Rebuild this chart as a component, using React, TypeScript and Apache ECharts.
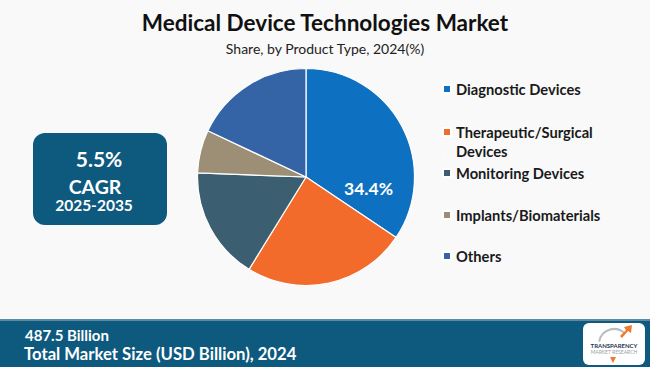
import React, { useEffect, useRef } from "react";
import * as echarts from "echarts";

const categories = [
  "Diagnostic Devices",
  "Therapeutic/Surgical Devices",
  "Monitoring Devices",
  "Implants/Biomaterials",
  "Others",
];
const shares = [34.4, 24.4, 16.8, 6.4, 18.0];
const legendLabels = [
  "Diagnostic Devices",
  "Therapeutic/Surgical\nDevices",
  "Monitoring Devices",
  "Implants/Biomaterials",
  "Others",
];
const colors = ["#0e70c0", "#f26b2a", "#3b5e70", "#9d8f76", "#3564a6"];
const titleText = "Medical Device Technologies Market";
const subtitleText = "Share, by Product Type, 2024(%)";
const cagrValue = "5.5%";
const cagrLabel = "CAGR";
const cagrPeriod = "2025-2035";
const marketSize = "487.5 Billion";
const marketLabel = "Total Market Size (USD Billion), 2024";

const legendTops = [80, 122.5, 164, 206, 247];

export default function App() {
  const ref = useRef<HTMLDivElement>(null);
  useEffect(() => {
    if (!ref.current) return;
    const chart = echarts.init(ref.current, null, { renderer: "svg" });
    const font = "Lato, 'Open Sans', sans-serif";
    const teal = "#0e5a7e";

    const legends = categories.map((name, i) => {
      const wrapped = legendLabels[i].includes("\n");
      return {
        data: [
          wrapped
            ? { name, icon: "path://M0,0h8v8h-8zM0,26.9h0.1v0.1h-0.1z" }
            : { name, icon: "rect" },
        ],
        orient: "vertical",
        left: 442,
        top: legendTops[i],
        padding: 0,
        itemWidth: 8,
        itemHeight: wrapped ? 27 : 8,
        selectedMode: false,
        formatter: () => legendLabels[i],
        textStyle: {
          fontFamily: font,
          fontWeight: "bold",
          fontSize: 14.7,
          color: "#1a1a1a",
          lineHeight: wrapped ? 19 : 18,
        },
      };
    });

    chart.setOption({
      animation: false,
      backgroundColor: "#f9f9f9",
      color: colors,
      title: [
        {
          text: titleText,
          left: "center",
          top: 6,
          textStyle: { fontFamily: font, fontWeight: "bold", fontSize: 22.5, color: "#111" },
        },
        {
          text: subtitleText,
          left: "center",
          top: 36,
          textStyle: { fontFamily: font, fontWeight: "normal", fontSize: 14, color: "#222" },
        },
      ],
      legend: legends,
      series: [
        {
          type: "pie",
          center: [306, 177],
          radius: 108.5,
          startAngle: 90,
          clockwise: true,
          avoidLabelOverlap: false,
          itemStyle: { borderColor: "#ffffff", borderWidth: 1.2 },
          label: { show: false },
          labelLine: { show: false },
          emphasis: { disabled: true },
          data: categories.map((name, i) => ({
            name,
            value: shares[i],
            label:
              i === 0
                ? {
                    show: true,
                    position: "inside",
                    offset: [12, 38],
                    formatter: (p: any) => p.value.toFixed(1) + "%",
                    color: "#ffffff",
                    fontFamily: font,
                    fontWeight: "bold",
                    fontSize: 17.5,
                  }
                : { show: false },
          })),
        },
      ],
      graphic: [
        {
          type: "rect",
          shape: { x: 33, y: 133, width: 134, height: 92, r: 12 },
          style: { fill: teal },
        },
        {
          type: "text",
          x: 99,
          y: 158,
          style: {
            text: cagrValue,
            fill: "#fff",
            font: `bold 21px ${font}`,
            align: "center",
            verticalAlign: "middle",
          },
        },
        {
          type: "text",
          x: 95,
          y: 186,
          style: {
            text: cagrLabel,
            fill: "#fff",
            font: `bold 19.5px ${font}`,
            align: "center",
            verticalAlign: "middle",
          },
        },
        {
          type: "text",
          x: 94,
          y: 205,
          style: {
            text: cagrPeriod,
            fill: "#fff",
            font: `bold 15.5px ${font}`,
            align: "center",
            verticalAlign: "middle",
          },
        },
        {
          type: "rect",
          shape: { x: 0, y: 320, width: 650, height: 47 },
          style: { fill: teal },
        },
        {
          type: "rect",
          shape: { x: 0, y: 319, width: 650, height: 2 },
          style: { fill: "#5f8aa3" },
        },
        {
          type: "text",
          x: 25,
          y: 335,
          style: {
            text: marketSize,
            fill: "#fff",
            font: `bold 15px ${font}`,
            verticalAlign: "middle",
          },
        },
        {
          type: "text",
          x: 24,
          y: 354,
          style: {
            text: marketLabel,
            fill: "#fff",
            font: `bold 16.7px ${font}`,
            verticalAlign: "middle",
          },
        },
        {
          type: "rect",
          shape: { x: 583, y: 323, width: 62, height: 42, r: 6 },
          style: { fill: "#ffffff" },
        },
        {
          type: "arc",
          shape: { cx: 614, cy: 344, r: 15, startAngle: Math.PI * 1.05, endAngle: Math.PI * 1.75 },
          style: { stroke: "#b8bcc0", lineWidth: 2, fill: "none" },
        },
        {
          type: "polygon",
          shape: {
            points: [
              [620, 336],
              [626, 330],
              [624, 327],
              [632, 325],
              [631, 333],
              [628, 331],
              [622, 338],
            ],
          },
          style: { fill: "#ef7a2e" },
        },
        {
          type: "text",
          x: 614,
          y: 345,
          style: {
            text: "TRANSPARENCY",
            fill: "#1f3550",
            font: `bold 6px ${font}`,
            align: "center",
            verticalAlign: "middle",
          },
        },
        {
          type: "text",
          x: 614,
          y: 352,
          style: {
            text: "MARKET RESEARCH",
            fill: "#9aa0a6",
            font: `5px ${font}`,
            align: "center",
            verticalAlign: "middle",
          },
        },
        {
          type: "polygon",
          shape: { points: [[610, 357], [616, 357], [613, 363]] },
          style: { fill: "#ef7a2e" },
        },
      ],
    });
    return () => chart.dispose();
  }, []);
  return (
    <div
      ref={ref}
      style={{ position: "fixed", left: 0, top: 0, width: 650, height: 367 }}
    />
  );
}
